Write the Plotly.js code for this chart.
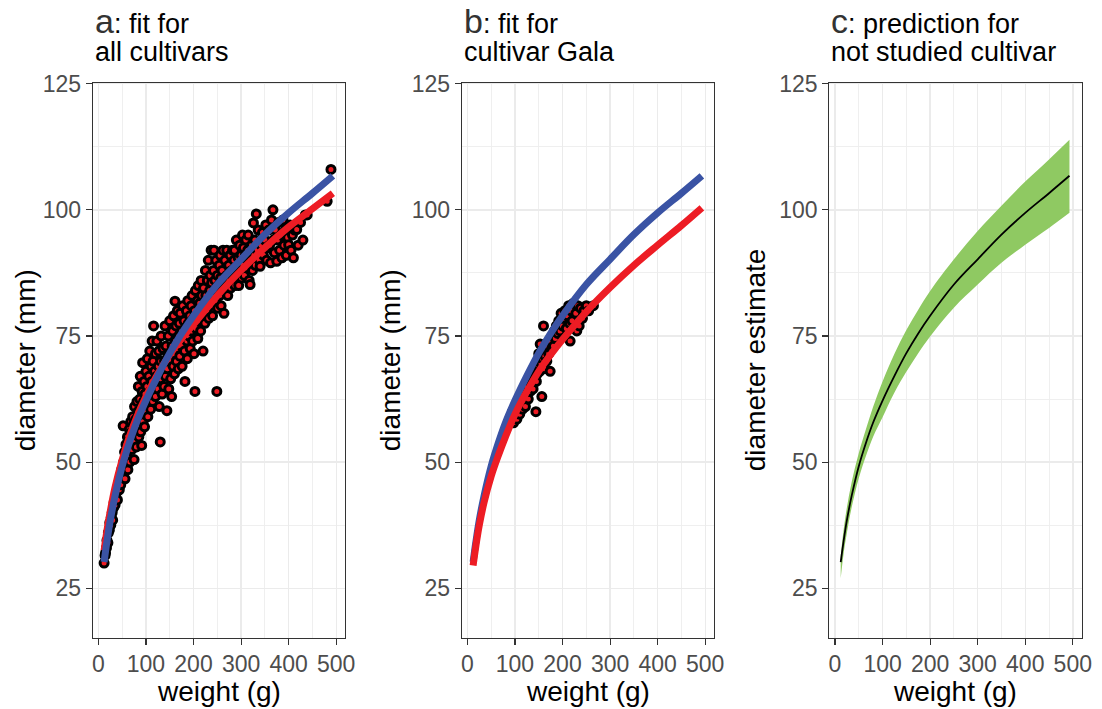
<!DOCTYPE html>
<html>
<head>
<meta charset="utf-8">
<script src="https://cdn.plot.ly/plotly-3.0.1.min.js"></script>
<style>html,body{margin:0;padding:0;background:#fff;}#chart{width:1102px;height:709px;}</style>
</head>
<body>
<div id="chart"></div>
<script>
// ---------- data ----------
const xTicks = [0, 100, 200, 300, 400, 500];
const yTicks = [25, 50, 75, 100, 125];

// weight grid used for the fitted curves
const weightGrid = [12, 18, 25, 35, 50, 65, 80, 100, 125, 150, 175, 200, 250, 300, 350, 400, 450, 493];
// population-level fit (blue)
const populationFit = [30.2, 34.3, 38.5, 43.3, 49.2, 53.8, 57.8, 62.2, 67.1, 71.6, 75.5, 79, 85.2, 90.2, 95.1, 99.4, 103.3, 106.75];
// fit using all cultivars (red, panel a)
const allCultivarFit = [32.5, 36.5, 40.3, 45, 50.5, 55, 58.8, 63, 67.5, 71.3, 74.5, 77.3, 83, 88, 92.5, 96.6, 100.2, 103.3];
// fit for cultivar Gala (red, panel b)
const galaFit = [29.5, 33.5, 37.5, 42, 47.2, 51.3, 55, 59.5, 64, 68, 71.3, 74.3, 79.8, 84.6, 89, 93, 96.9, 100.4];
// prediction for a not studied cultivar (panel c)
const predictionMean = [30.2, 34.3, 38.5, 43.3, 49.2, 53.8, 57.8, 62.2, 67.1, 71.6, 75.5, 79, 85.2, 90.2, 95.1, 99.4, 103.3, 106.75];
const predictionLower = [27, 31.8, 36, 41, 46.8, 51.2, 55, 58.9, 63.8, 67.9, 71.6, 74.9, 80.6, 85.2, 89.5, 93.1, 96.4, 99.4];
const predictionUpper = [31.5, 36.5, 41, 46, 51.8, 56.5, 60.9, 66, 71.5, 76.2, 80.2, 83.9, 90.2, 95.8, 100.8, 105.6, 110, 113.9];

// observed apples, all cultivars: [weight g, diameter mm]
const allCultivarPoints = [
[12,30],[14,31.5],[15,32],[17,33],[18,34.5],[20,34],[21,36],[23,36.5],[24,38],[26,37.5],[27,39],[29,40],[30,38.5],[32,41],[33,42],[35,41.5],[36,43],[38,44],[40,42.5],[41,45],[43,46],[44,44.5],[46,47],[47,45.5],[49,48.5],[50,47],
[52,57.2],[53,50],[55,52],[56,46.7],[58,49.5],[58,53.5],[60,51],[61,55],[62,48.5],[64,53],[65,56.5],[66,50],[67,54.5],[68,58],[70,52.5],[70,56],[72,59],[73,54],[74,57.5],[75,50.5],[76,61],[78,55.5],[79,58.5],[80,53],[81,62],[82,57],[83,60],[84,65],[85,55],[86,58.5],[87,62.5],[88,67],[89,56],[90,60.5],[91,53.3],[92,64],
[93,69.7],[94,58],[95,62],[96,66],[97,57],[98,63.5],[100,60],[100,68],[102,65],[103,70.5],[104,59],[105,62.5],[106,67],[108,72],[109,64],[110,60.5],[111,69],[112,66],[113,74],[114,62],[115,70],[116,77],[117,65],[118,68],[120,63],[120,71.5],[122,67],[123,74],[125,64.5],[126,69],[127,72],[128,61],[130,54],[130,66.5],[131,70],[132,75],[134,63.5],[135,68],[136,72.5],[138,65],[139,70],[140,77],[141,67],[142,73],[144,60.2],[145,68.5],[146,71],[147,75],[148,64.5],[150,70],[150,78],
[152,66.5],[154,63],[155,73],[156,76],[157,69],[158,79],[159,71.5],[160,67.5],[161,81.9],[162,74],[163,77],[164,70],[165,72.5],[166,80],[168,68.5],[169,75],[170,77.5],[171,71],[172,79.5],[174,73],[175,76],[176,69],[177,81],[178,74.5],[180,78],[181,72],[182,66],[183,76.5],[185,80],[186,74],[187,70.5],[188,82],[189,77.5],[190,75],[192,79],[193,72.5],[195,81],[196,76],[197,83],[198,74],[200,78.5],[201,71.5],[202,80],[203,64],[204,84],[205,76.5],[207,79],[208,82],[209,74.5],[210,85],
[212,78],[213,81.5],[215,76],[216,86],[217,83],[218,79.5],[220,72],[221,84.5],[222,81],[224,77.5],[225,88],[226,83],[228,80],[229,86],[230,82],[231,90],[232,78.5],[234,84],[235,87],[236,81],[237,92],[238,85.5],[240,79],[241,83],[242,88],[243,92],[245,86],[246,82],[247,90],[248,84],[249,64],[250,87],[251,80.5],[252,85],[254,89],[255,83],[256,91],[257,86.5],[258,81],[260,88],[261,84],[262,92],[263,86],[264,79.5],[266,90],[268,85],[270,92],[270,87],
[272,83],[274,89],[275,86],[277,91],[278,84.5],[280,88],[282,92],[283,86],[285,90],[286,92],[287,85],[289,88.5],[290,94],[292,87],[294,90.5],[295,85],[297,93],[298,88],[300,91],[301,86.5],[303,95],[304,89],[305,92.5],[307,87],[309,91],[310,94],[312,88.5],[314,92],[315,95],[317,86],[319,85.2],[320,90],[322,93],[324,88],[326,97.4],[327,91],[329,94],[330,89],[332,99.2],[334,92],[336,96],[338,90],[340,88.8],
[342,93],[345,95.5],[347,91],[350,94],[352,97],[354,90],[356,92.5],[358,96],[360,93],[362,89.5],[364,98],[367,100],[368,94],[370,91.5],[372,96],[375,89.8],[377,94],[379,97.5],[381,92],[384,95],[386,90.5],[388,98],[390,93],[393,96],[395,91],[398,94.5],[400,93.1],[403,97],[405,92],[408,95],[410,90.5],[413,96],[417,96.1],[420,93],[425,97.5],[430,94],[435,99],[439,99],
[481,101.7],[489,108]
];

// observed apples, cultivar Gala: [weight g, diameter mm]
const galaPoints = [
[92,58.5],[95,60],[97,57.8],[100,59],[102,61],[104,58.5],[106,60.5],[108,62],[110,59.5],[112,61.5],[114,63],[116,60.5],[118,62.5],[120,64],[122,61],[124,63.5],[126,65],[128,62.5],[130,66],[132,64],[134,65.5],[136,67],[138,64.5],[140,66.5],[142,68],[144,60],[145,66],[147,67.5],[149,69],[150,71.5],[152,68],[153,73.4],[155,69.5],[156.5,63],[158,70.5],[160,77],[161,68.5],[163,71],[165,72.5],[167,70],[169,73],[171,71.5],[174,68],[175,74],[177,72.5],[179,75],[181,73],[183,76],[185,74.5],[187,77],[190,75.5],[192,78],[195,76],[197,79.5],[200,77],[203,78.5],[205,80],[208,76.5],[210,79],[213,81],[215,77.5],[216,74],[218,80],[220,78],[223,81.5],[228,79.5],[230,76],[232,81],[235,77],[238,80.5],[242,78.5],[245,80],[250,81],[255,80],[265,81]
];

const panelTitles = [
  ["a", ": fit for", "all cultivars"],
  ["b", ": fit for", "cultivar Gala"],
  ["c", ": prediction for", "not studied cultivar"]
];
const yTitles = ["diameter (mm)", "diameter (mm)", "diameter estimate"];
const xTitle = "weight (g)";

// ---------- styling ----------
const FONT = "Liberation Sans, Arial, sans-serif";
const RED = "#ED1C24";
const BLUE = "#3A53A4";
const GREEN = "#8FC962";
const W = 1102, H = 709;
const plotLeft = [92.7, 461.7, 829.3];
const plotWidth = 252.3;
const plotTop = 82.7, plotBottom = 637.7;

const xs = p => p.map(d => d[0]);
const ys = p => p.map(d => d[1]);
const pointMarker = {size:8, color:RED, line:{color:'#000', width:3}};

const traces = [
  {x: xs(allCultivarPoints), y: ys(allCultivarPoints), xaxis:'x', yaxis:'y', mode:'markers', type:'scatter', marker:pointMarker},
  {x: weightGrid, y: allCultivarFit, xaxis:'x', yaxis:'y', mode:'lines', line:{color:RED, width:7, shape:'spline'}},
  {x: weightGrid, y: populationFit, xaxis:'x', yaxis:'y', mode:'lines', line:{color:BLUE, width:7, shape:'spline'}},

  {x: xs(galaPoints), y: ys(galaPoints), xaxis:'x2', yaxis:'y2', mode:'markers', type:'scatter', marker:pointMarker},
  {x: weightGrid, y: populationFit, xaxis:'x2', yaxis:'y2', mode:'lines', line:{color:BLUE, width:7, shape:'spline'}},
  {x: weightGrid, y: galaFit, xaxis:'x2', yaxis:'y2', mode:'lines', line:{color:RED, width:7, shape:'spline'}},

  {x: weightGrid, y: predictionLower, xaxis:'x3', yaxis:'y3', mode:'lines', line:{width:0, color:GREEN, shape:'spline'}},
  {x: weightGrid, y: predictionUpper, xaxis:'x3', yaxis:'y3', mode:'lines', fill:'tonexty', fillcolor:GREEN,
   line:{width:0, color:GREEN, shape:'spline'}},
  {x: weightGrid, y: predictionMean, xaxis:'x3', yaxis:'y3', mode:'lines', line:{color:'#000', width:1.8, shape:'spline'}}
];

function xAxis(i, anchor) {
  return {
    domain:[plotLeft[i]/W, (plotLeft[i]+plotWidth)/W], anchor: anchor,
    range:[-12, 518.5], tickvals:xTicks, ticktext:xTicks.map(String),
    ticks:'outside', ticklen:6, tickwidth:1.1, tickcolor:'#333333',
    tickfont:{family:FONT, size:23, color:'#4D4D4D'},
    showgrid:true, gridcolor:'#EBEBEB', gridwidth:1.4,
    minor:{tick0:0, dtick:50, showgrid:true, gridcolor:'#EDEDED', gridwidth:0.9},
    showline:true, mirror:true, linecolor:'#333333', linewidth:1.1, zeroline:false
  };
}
function yAxis(anchor) {
  return {
    domain:[1-plotBottom/H, 1-plotTop/H], anchor: anchor,
    range:[15.2, 125.2], tickvals:yTicks, ticktext:yTicks.map(String),
    ticks:'outside', ticklen:6, tickwidth:1.1, tickcolor:'#333333',
    tickfont:{family:FONT, size:23, color:'#4D4D4D'},
    showgrid:true, gridcolor:'#EBEBEB', gridwidth:1.4,
    minor:{tick0:12.5, dtick:25, showgrid:true, gridcolor:'#EDEDED', gridwidth:0.9},
    showline:true, mirror:true, linecolor:'#333333', linewidth:1.1, zeroline:false
  };
}

const annotations = [];
const yTitleX = [25, 390, 755];
panelTitles.forEach((t, i) => {
  annotations.push({xref:'paper', yref:'paper', x:plotLeft[i]/W, y:1-21/H, xanchor:'left', yanchor:'middle', showarrow:false,
    align:'left', text:"<span style='font-size:34px;color:#333333'>"+t[0]+"</span>"+t[1], font:{family:FONT, size:27, color:'#000'}});
  annotations.push({xref:'paper', yref:'paper', x:plotLeft[i]/W, y:1-52/H, xanchor:'left', yanchor:'middle', showarrow:false,
    align:'left', text:t[2], font:{family:FONT, size:27, color:'#000'}});
  annotations.push({xref:'paper', yref:'paper', x:(plotLeft[i]+plotWidth/2)/W, y:1-691/H, xanchor:'center', yanchor:'middle', showarrow:false,
    text:xTitle, font:{family:FONT, size:28, color:'#000'}});
  annotations.push({xref:'paper', yref:'paper', x:yTitleX[i]/W, y:1-((plotTop+plotBottom)/2)/H, xanchor:'center', yanchor:'middle', showarrow:false,
    textangle:-90, text:yTitles[i], font:{family:FONT, size:28, color:'#000'}});
});

const layout = {
  width:W, height:H, margin:{l:0, r:0, t:0, b:0},
  paper_bgcolor:'#fff', plot_bgcolor:'#fff', showlegend:false,
  xaxis:xAxis(0,'y'), yaxis:yAxis('x'),
  xaxis2:xAxis(1,'y2'), yaxis2:yAxis('x2'),
  xaxis3:xAxis(2,'y3'), yaxis3:yAxis('x3'),
  annotations: annotations
};

Plotly.newPlot('chart', traces, layout, {displayModeBar:false, staticPlot:true});
</script>
</body>
</html>
